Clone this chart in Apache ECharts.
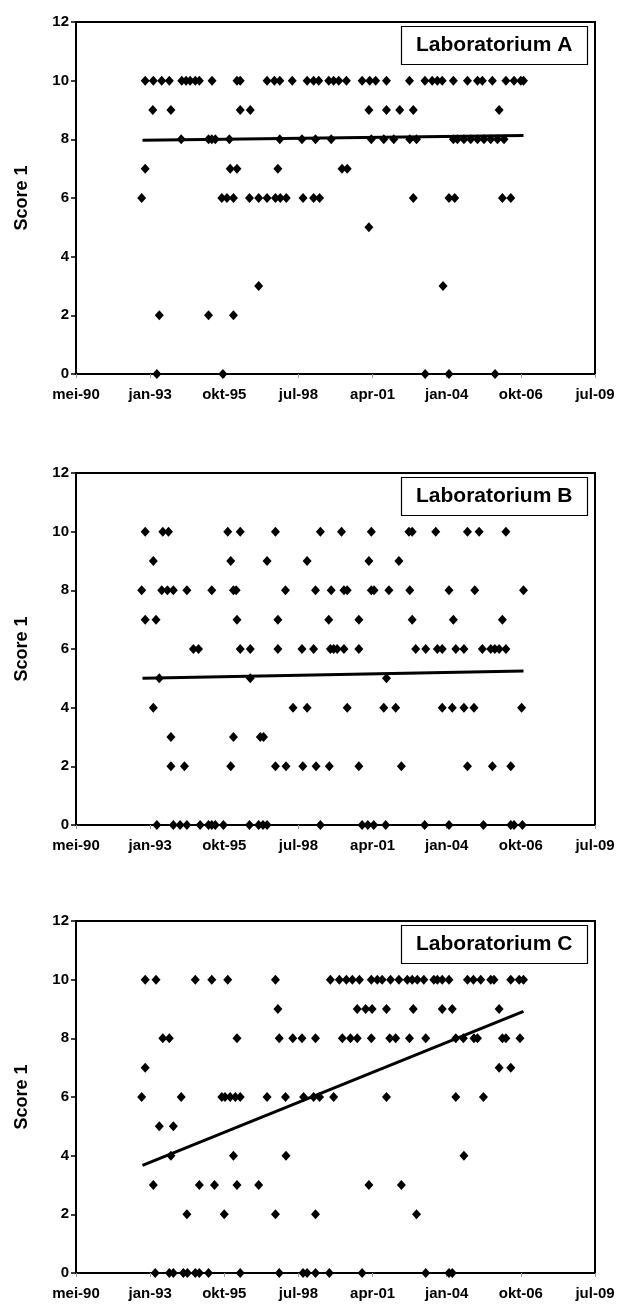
<!DOCTYPE html>
<html>
<head>
<meta charset="utf-8">
<script src="https://cdn.jsdelivr.net/npm/echarts@6/dist/echarts.min.js"></script>
<style>
  html, body { margin: 0; padding: 0; background: #fff; }
  #chart { width: 618px; height: 1311px; }
</style>
</head>
<body>
<div id="chart"></div>
<script>
// x axis is an Excel date axis: 33000 .. 40000, one tick every 1000 days
const xTickLabels = ['mei-90', 'jan-93', 'okt-95', 'jul-98', 'apr-01', 'jan-04', 'okt-06', 'jul-09'];
const labNames = ['Laboratorium A', 'Laboratorium B', 'Laboratorium C'];

// points as [decimal year, score]
const labA = [
  [1992.90,10],[1993.20,10],[1993.51,10],[1993.79,10],[1994.25,10],[1994.41,10],[1994.56,10],[1994.75,10],[1994.90,10],
  [1995.37,10],[1996.29,10],[1996.41,10],[1997.40,10],[1997.67,10],[1997.87,10],[1998.33,10],[1998.88,10],[1999.12,10],
  [1999.31,10],[1999.68,10],[1999.86,10],[2000.05,10],[2000.33,10],[2000.91,10],[2001.19,10],[2001.41,10],[2001.81,10],
  [2002.66,10],[2003.23,10],[2003.50,10],[2003.69,10],[2003.87,10],[2004.28,10],[2004.80,10],[2005.17,10],[2005.35,10],
  [2005.72,10],[2006.22,10],[2006.52,10],[2006.77,10],[2006.87,10],
  [1993.18,9],[1993.85,9],[1996.41,9],[1996.78,9],[2001.16,9],[2001.81,9],[2002.30,9],[2002.80,9],[2005.97,9],
  [1994.23,8],[1995.24,8],[1995.36,8],[1995.49,8],[1996.01,8],[1997.87,8],[1998.69,8],[1999.19,8],[1999.77,8],
  [2001.25,8],[2001.71,8],[2002.08,8],[2002.67,8],[2002.92,8],[2004.28,8],[2004.43,8],[2004.67,8],[2004.92,8],
  [2005.17,8],[2005.41,8],[2005.66,8],[2005.91,8],[2006.15,8],
  [1992.90,7],[1996.04,7],[1996.29,7],[1997.80,7],[2000.17,7],[2000.36,7],
  [1992.77,6],[1995.73,6],[1995.92,6],[1996.16,6],[1996.75,6],[1997.09,6],[1997.40,6],[1997.71,6],[1997.89,6],
  [1998.11,6],[1998.73,6],[1999.12,6],[1999.34,6],[2002.80,6],[2004.12,6],[2004.33,6],[2006.09,6],[2006.40,6],
  [2001.16,5],
  [1997.09,3],[2003.90,3],
  [1993.42,2],[1995.24,2],[1996.16,2],
  [1993.33,0],[1995.77,0],[2003.24,0],[2004.12,0],[2005.82,0]
];
const labB = [
  [1992.90,10],[1993.55,10],[1993.76,10],[1995.95,10],[1996.41,10],[1997.71,10],[1999.37,10],[2000.15,10],[2001.25,10],
  [2002.64,10],[2002.76,10],[2003.63,10],[2004.80,10],[2005.23,10],[2006.22,10],
  [1993.20,9],[1996.06,9],[1997.40,9],[1998.88,9],[2001.16,9],[2002.27,9],
  [1992.77,8],[1993.51,8],[1993.72,8],[1993.94,8],[1994.44,8],[1995.36,8],[1996.16,8],[1996.26,8],[1998.08,8],
  [1999.19,8],[1999.77,8],[2000.24,8],[2000.36,8],[2001.25,8],[2001.35,8],[2001.90,8],[2002.67,8],[2004.12,8],
  [2005.07,8],[2006.87,8],
  [1992.90,7],[1993.30,7],[1996.29,7],[1997.80,7],[1999.68,7],[2000.79,7],[2002.76,7],[2004.28,7],[2006.09,7],
  [1994.68,6],[1994.87,6],[1996.41,6],[1996.78,6],[1997.80,6],[1998.69,6],[1999.12,6],[1999.74,6],[1999.86,6],
  [1999.99,6],[2000.24,6],[2000.79,6],[2002.89,6],[2003.26,6],[2003.69,6],[2003.87,6],[2004.37,6],[2004.67,6],
  [2005.35,6],[2005.66,6],[2005.81,6],[2005.97,6],[2006.22,6],
  [1993.42,5],[1996.78,5],[2001.81,5],
  [1993.20,4],[1998.36,4],[1998.88,4],[2000.36,4],[2001.71,4],[2002.15,4],[2003.87,4],[2004.24,4],[2004.67,4],
  [2005.04,4],[2006.80,4],
  [1993.85,3],[1996.16,3],[1997.15,3],[1997.27,3],
  [1993.85,2],[1994.35,2],[1996.06,2],[1997.71,2],[1998.10,2],[1998.72,2],[1999.21,2],[1999.70,2],[2000.79,2],
  [2002.36,2],[2004.80,2],[2005.72,2],[2006.40,2],
  [1993.33,0],[1993.94,0],[1994.19,0],[1994.44,0],[1994.93,0],[1995.24,0],[1995.36,0],[1995.49,0],[1995.79,0],
  [1996.75,0],[1997.09,0],[1997.25,0],[1997.40,0],[1999.37,0],[2000.91,0],[2001.12,0],[2001.34,0],[2001.78,0],
  [2003.22,0],[2004.12,0],[2005.39,0],[2006.40,0],[2006.52,0],[2006.83,0]
];
const labC = [
  [1992.90,10],[1993.30,10],[1994.75,10],[1995.36,10],[1995.95,10],[1997.71,10],[1999.74,10],[2000.07,10],[2000.33,10],
  [2000.55,10],[2000.81,10],[2001.25,10],[2001.47,10],[2001.65,10],[2001.96,10],[2002.27,10],[2002.58,10],[2002.76,10],
  [2002.95,10],[2003.19,10],[2003.56,10],[2003.69,10],[2003.87,10],[2004.12,10],[2004.80,10],[2005.02,10],[2005.29,10],
  [2005.66,10],[2005.78,10],[2006.40,10],[2006.71,10],[2006.87,10],
  [1997.80,9],[2000.73,9],[2001.04,9],[2001.28,9],[2001.81,9],[2002.80,9],[2003.87,9],[2004.24,9],[2005.97,9],
  [1993.55,8],[1993.79,8],[1996.29,8],[1997.85,8],[1998.35,8],[1998.69,8],[1999.19,8],[2000.18,8],[2000.48,8],
  [2000.73,8],[2001.25,8],[2001.93,8],[2002.15,8],[2002.66,8],[2003.26,8],[2004.37,8],[2004.65,8],[2005.04,8],
  [2005.17,8],[2006.09,8],[2006.22,8],[2006.74,8],
  [1992.90,7],[2005.97,7],[2006.40,7],
  [1992.77,6],[1994.23,6],[1995.73,6],[1995.85,6],[1996.04,6],[1996.23,6],[1996.41,6],[1997.40,6],[1998.08,6],
  [1998.75,6],[1999.12,6],[1999.34,6],[1999.86,6],[2001.81,6],[2004.37,6],[2005.39,6],
  [1993.42,5],[1993.94,5],
  [1993.85,4],[1996.16,4],[1998.10,4],[2004.67,4],
  [1993.20,3],[1994.90,3],[1995.46,3],[1996.29,3],[1997.09,3],[2001.16,3],[2002.36,3],
  [1994.44,2],[1995.82,2],[1997.71,2],[1999.19,2],[2002.92,2],
  [1993.27,0],[1993.79,0],[1993.94,0],[1994.31,0],[1994.46,0],[1994.75,0],[1994.90,0],[1995.24,0],[1996.41,0],
  [1997.85,0],[1998.73,0],[1998.88,0],[1999.19,0],[1999.70,0],[2000.91,0],[2003.26,0],[2004.12,0],[2004.24,0]
];

// linear trend lines, end points
const trendA = [[1992.80, 7.97], [2006.87, 8.13]];
const trendB = [[1992.80, 5.00], [2006.87, 5.25]];
const trendC = [[1992.80, 3.67], [2006.87, 8.92]];

// decimal year -> Excel serial day number
function toSerial(y) {
    const yr = Math.floor(y);
    const start = Date.UTC(yr, 0, 1);
    const end = Date.UTC(yr + 1, 0, 1);
    return (start + (y - yr) * (end - start)) / 86400000 + 25569;
}
const conv = arr => arr.map(p => [toSerial(p[0]), p[1]]);

const chart = echarts.init(document.getElementById('chart'));
const font = 'Liberation Sans, Arial, sans-serif';
const panelTops = [22, 473, 921];
const labs = [labA, labB, labC];
const trends = [trendA, trendB, trendC];

const grids = [], xAxes = [], yAxes = [], series = [], titles = [];
panelTops.forEach((top, i) => {
    grids.push({ left: 76, width: 519, top: top, height: 352, show: true, borderColor: '#000', borderWidth: 2, backgroundColor: '#fff' });
    xAxes.push({
        type: 'value', gridIndex: i, min: 33000, max: 40000, interval: 1000,
        axisLine: { lineStyle: { color: '#000', width: 2 } },
        axisTick: { show: true, length: 4, lineStyle: { color: '#999' } },
        splitLine: { show: false },
        axisLabel: {
            margin: 13, color: '#000', fontWeight: 'bold', fontSize: 15, fontFamily: font,
            formatter: v => xTickLabels[Math.round((v - 33000) / 1000)]
        }
    });
    yAxes.push({
        type: 'value', gridIndex: i, min: 0, max: 12, interval: 2,
        name: 'Score 1', nameLocation: 'middle', nameGap: 45, nameRotate: 90,
        nameTextStyle: { color: '#000', fontWeight: 'bold', fontSize: 18, fontFamily: font },
        axisLine: { show: true, lineStyle: { color: '#000', width: 2 } },
        axisTick: { show: true, length: 5, lineStyle: { color: '#000', width: 1.5 } },
        splitLine: { show: false },
        axisLabel: { margin: 7, color: '#000', fontWeight: 'bold', fontSize: 15, fontFamily: font }
    });
    series.push({
        type: 'line', xAxisIndex: i, yAxisIndex: i, data: conv(trends[i]),
        symbol: 'none', lineStyle: { color: '#000', width: 3 }, z: 2, silent: true
    });
    series.push({
        type: 'scatter', xAxisIndex: i, yAxisIndex: i, data: conv(labs[i]),
        symbol: 'diamond', symbolSize: [9, 10], itemStyle: { color: '#000', opacity: 1 }, z: 3, silent: true
    });
    titles.push({
        text: labNames[i], left: 401, top: top + 4,
        borderColor: '#000', borderWidth: 1.2, padding: [9, 15], backgroundColor: '#fff',
        textStyle: { color: '#000', fontWeight: 'bold', fontSize: 21, fontFamily: font }
    });
});

chart.setOption({
    animation: false,
    backgroundColor: '#fff',
    title: titles,
    grid: grids,
    xAxis: xAxes,
    yAxis: yAxes,
    series: series
});
</script>
</body>
</html>
